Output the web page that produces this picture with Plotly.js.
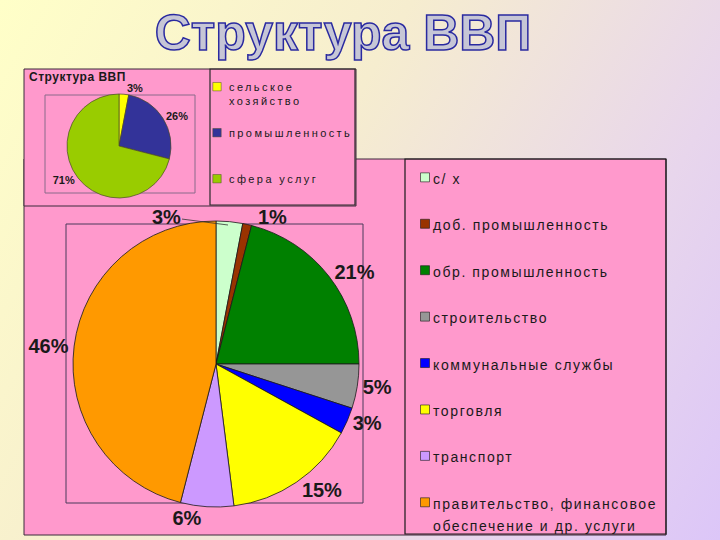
<!DOCTYPE html>
<html>
<head>
<meta charset="utf-8">
<script src="https://cdn.plot.ly/plotly-3.0.1.min.js"></script>
<style>
  html, body { margin:0; padding:0; }
  body { width:720px; height:540px; overflow:hidden;
         background: linear-gradient(120deg, #FFFFC8 0%, #F6EDCF 40%, #E8D6EC 75%, #DCC6F8 100%); }
  #chart { width:720px; height:540px; }
  .gtitle { stroke:#2a2aa0; stroke-width:1.5px; }
  g.legend .legendpoints { transform: translate(17px,0px) scale(0.75); }
  g.legend2 .legendpoints { transform: translate(14px,0px) scale(0.7); }
</style>
</head>
<body>
<div id="chart"></div>
<script>
// ---- data ----
const categories = ['с/ х', 'доб. промышленность', 'обр. промышленность', 'строительство',
                    'коммунальные службы', 'торговля', 'транспорт',
                    'правительство, финансовое<br>обеспечение и др. услуги'];
const shares = [3, 1, 21, 5, 3, 15, 6, 46];
const sliceColors = ['#CCFFCC', '#993300', '#008000', '#969696', '#0000FF', '#FFFF00', '#CC99FF', '#FF9900'];

const insetCategories = ['сельское<br>хозяйство', 'промышленность', 'сфера услуг'];
const insetShares = [3, 26, 71];
const insetColors = ['#FFFF00', '#333399', '#99CC00'];

const mainTitle = 'Структура ВВП';
const insetTitle = 'Структура ВВП';

// ---- helpers ----
const W = 720, H = 540;
const px = x => x / W;
const py = y => 1 - y / H;
function legendLabel(label, lines, style) {
  const parts = label.split('<br>').map(s => '<span style="' + style + '">' + s + '</span>');
  while (parts.length < lines) parts.push(' ');
  return parts.join('<br>');
}
function rect(x0, y0, x1, y1, fill, line, lw) {
  return {type:'rect', xref:'paper', yref:'paper', layer:'below',
          x0:px(x0), x1:px(x1), y0:py(y1), y1:py(y0),
          fillcolor: fill || 'rgba(0,0,0,0)', line:{color:line, width:lw}};
}

const FONT = 'Liberation Sans, Arial, sans-serif';
const mainStyle = 'font-size:14px;letter-spacing:1.6px';
const insetStyle = 'font-size:11px;letter-spacing:2.4px';
const labelFont = {family:FONT, size:20, color:'#1a1a1a', weight:'bold'};

const mainPie = {
  type:'pie', sort:false, direction:'clockwise', rotation:0,
  labels: categories.map(c => legendLabel(c, 2, mainStyle)),
  values: shares,
  marker:{colors: sliceColors, line:{color:'#1a1a1a', width:0.8}},
  // the two thin top slices get their labels below (as in the original, with a leader line)
  texttemplate: shares.map((v, i) => i < 2 ? '' : '%{value}%'),
  textposition:'outside',
  outsidetextfont: labelFont,
  domain:{x:[px(73), px(359)], y:[py(507), py(221)]},
  legend:'legend', hoverinfo:'label+percent'
};
const insetPie = {
  type:'pie', sort:false, direction:'clockwise', rotation:0,
  labels: insetCategories.map(c => legendLabel(c, 3, insetStyle)),
  values: insetShares,
  marker:{colors: insetColors, line:{color:'#4a4a2a', width:0.7}},
  texttemplate:'%{value}%', textposition:'outside',
  outsidetextfont:{family:FONT, size:11, color:'#1a1a1a', weight:'bold'},
  domain:{x:[px(67), px(171)], y:[py(198), py(94)]},
  legend:'legend2', hoverinfo:'label+percent'
};

const layout = {
  width:W, height:H, margin:{l:0, r:0, t:0, b:0, autoexpand:false},
  paper_bgcolor:'rgba(0,0,0,0)', plot_bgcolor:'rgba(0,0,0,0)',
  font:{family:FONT, color:'#1a1a1a'},
  title:{text: mainTitle, x:px(343), xanchor:'center', y:py(32), yanchor:'middle',
         font:{family:FONT, size:50, color:'#C6C6D6', weight:'bold'}},
  showlegend:true,
  legend:{x:px(393), xanchor:'left', y:py(160), yanchor:'top', bgcolor:'rgba(0,0,0,0)',
          borderwidth:0, valign:'top', font:{family:FONT, size:16.7, color:'#1a1a1a'}},
  legend2:{x:px(189), xanchor:'left', y:py(73), yanchor:'top', bgcolor:'rgba(0,0,0,0)',
           borderwidth:0, valign:'top', font:{family:FONT, size:11.03, color:'#1a1a1a'}},
  shapes:[
    rect(24, 159, 666, 535, '#FF99CC', '#3a2a3a', 1),
    rect(66, 224, 363, 503, null, '#4a3a5a', 1),
    rect(405, 159, 666, 534, null, '#1a1a1a', 1.2),
    rect(24, 69, 356, 206, '#FF99CC', '#3a2a3a', 1),
    rect(45, 95, 195, 193, null, '#8a6a8a', 1),
    rect(210, 69, 355, 205, null, '#2a2a2a', 1.2)
  ],
  annotations:[
    {text:'<b><span style="letter-spacing:0.5px">' + insetTitle + '</span></b>', xref:'paper', yref:'paper',
     x:px(27), y:py(77), xanchor:'left', yanchor:'middle', showarrow:false,
     font:{family:FONT, size:12, color:'#1a1a1a'}},
    {text: shares[0] + '%', xref:'paper', yref:'paper', x:px(228), y:py(225),
     showarrow:true, arrowhead:0, arrowwidth:0.8, arrowcolor:'#333333', standoff:0,
     ax:-62, ay:-8, font:labelFont},
    {text: shares[1] + '%', xref:'paper', yref:'paper', x:px(272), y:py(217),
     showarrow:false, font:labelFont}
  ]
};

Plotly.newPlot('chart', [mainPie, insetPie], layout, {displayModeBar:false, staticPlot:true});
</script>
</body>
</html>
